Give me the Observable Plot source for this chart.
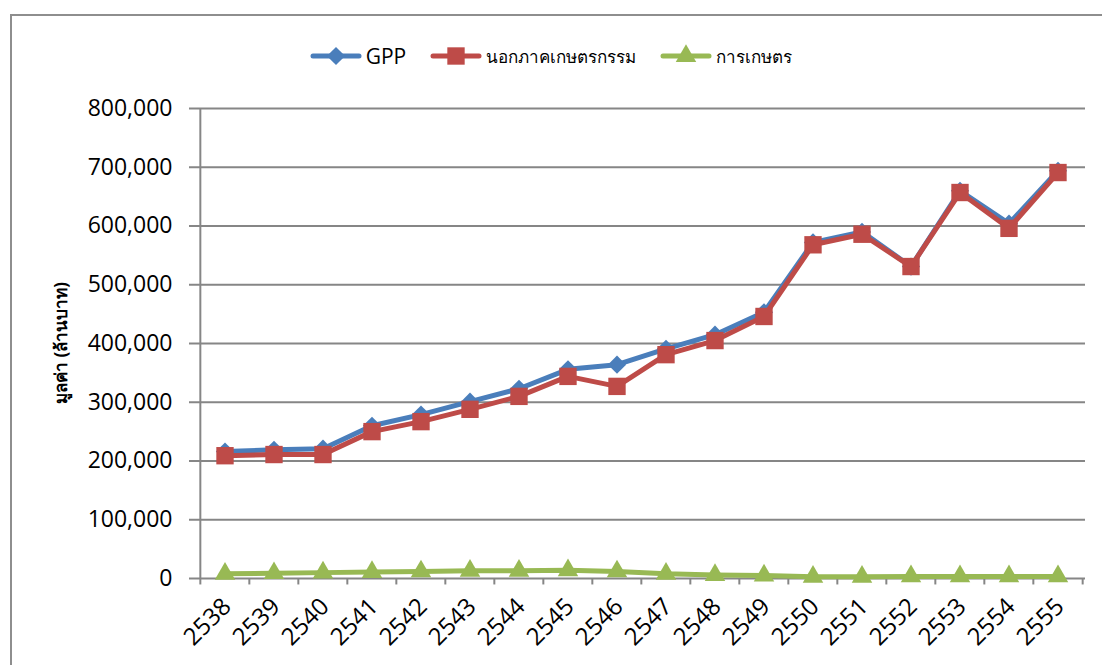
<!DOCTYPE html>
<html>
<head>
<meta charset="utf-8">
<script src="https://cdn.jsdelivr.net/npm/d3@7"></script>
<script src="https://cdn.jsdelivr.net/npm/@observablehq/plot@0.6"></script>
<style>
  html, body { margin: 0; padding: 0; background: #fff; }
  body { width: 1102px; height: 665px; position: relative; overflow: hidden; font-family: "Open Sans", sans-serif; }
  #frame { position: absolute; left: 10px; top: 14px; width: 1200px; height: 800px; border: 2px solid #8e8e8e; box-sizing: border-box; }
  #chart { position: absolute; left: 0; top: 0; }
  #legend { position: absolute; left: 0; top: 42px; width: 1102px; display: flex; justify-content: center; align-items: center; gap: 0; }
  .item { display: flex; align-items: center; margin: 0 12px; }
  .item svg { display: block; }
  .item span { font-size: 21px; color: #000; margin-left: 4px; }
  .item span.th { font-size: 17px; font-weight: 300; }
</style>
</head>
<body>
<div id="frame"></div>
<div id="chart"></div>
<div id="legend"></div>
<script>
const years = ["2538","2539","2540","2541","2542","2543","2544","2545","2546","2547","2548","2549","2550","2551","2552","2553","2554","2555"];
const gpp      = [216000, 219000, 221000, 260000, 279000, 301000, 323000, 356000, 364000, 391000, 415000, 453000, 572000, 590000, 531000, 660000, 604000, 694000];
const nonAgri  = [209000, 211000, 211000, 250000, 267000, 288000, 310000, 344000, 327000, 381000, 405000, 446000, 568000, 586000, 531000, 657000, 596000, 691000];
const agri     = [8000, 9000, 10000, 11000, 12000, 13000, 13000, 14000, 12000, 8000, 6000, 5000, 3000, 3000, 3500, 3500, 3500, 3500];
const seriesNames = ["GPP", "นอกภาคเกษตรกรรม", "การเกษตร"];
const seriesColors = ["#4a7ebb", "#be4b48", "#98b954"];
const seriesSymbols = ["diamond2", "square", "triangle"];
const yTicks = [0, 100000, 200000, 300000, 400000, 500000, 600000, 700000, 800000];
const yLabel = "มูลค่า (ล้านบาท)";

const seriesValues = [gpp, nonAgri, agri];
const data = seriesNames.flatMap((s, k) => years.map((y, i) => ({year: y, series: s, value: seriesValues[k][i]})));

const W = 1102, H = 665, mL = 197, mR = 17, mT = 108, mB = 87;
const bw = (W - mL - mR) / years.length;
const grey = "#868686";
const font = "'Open Sans', sans-serif";
const symbolR = {"diamond2": 8.2, "square": 9.8, "triangle": 7.6};

const marks = [
  Plot.ruleY(yTicks, {stroke: grey, strokeWidth: 2}),
  Plot.ruleX([years[0]], {dx: -bw / 2, y1: 0, y2: 800000, stroke: grey, strokeWidth: 2}),
  Plot.ruleX(years, {dx: -bw / 2, y1: 0, y2: -11000, stroke: grey, strokeWidth: 2}),
  Plot.ruleX([years[years.length - 1]], {dx: bw / 2, y1: 0, y2: -11000, stroke: grey, strokeWidth: 2}),
  Plot.axisY({ticks: yTicks, tickFormat: d3.format(","), tickSize: 8, tickPadding: 17, fontSize: 23, stroke: grey, strokeWidth: 2, label: null, fill: "#000"}),
  Plot.axisX({tickSize: 0, tickRotate: -45, fontSize: 24, tickPadding: 24, dx: 2, label: null, fill: "#000"})
];
seriesNames.forEach((s, k) => {
  const sub = data.filter(d => d.series === s);
  marks.push(Plot.line(sub, {x: "year", y: "value", stroke: seriesColors[k], strokeWidth: 5, strokeLinejoin: "round", strokeLinecap: "round"}));
  marks.push(Plot.dot(sub, {x: "year", y: "value", symbol: () => seriesSymbols[k], r: symbolR[seriesSymbols[k]], fill: seriesColors[k], stroke: "none"}));
});

const chart = Plot.plot({
  width: W, height: H,
  marginLeft: mL, marginRight: mR, marginTop: mT, marginBottom: mB,
  style: {background: "transparent", fontFamily: font, color: "#000"},
  x: {type: "band", domain: years, padding: 0, axis: null},
  y: {domain: [0, 800000], axis: null},
  symbol: {domain: seriesSymbols, range: seriesSymbols},
  marks
});
// y-axis title, placed with the chart's own y scale
const ys = chart.scale("y");
const yMid = (ys.apply(ys.domain[0]) + ys.apply(ys.domain[1])) / 2;
d3.select(chart).append("text")
  .attr("transform", `translate(62,${yMid}) rotate(-90)`)
  .attr("text-anchor", "middle").attr("dominant-baseline", "middle")
  .attr("font-size", 17).attr("font-weight", "bold").attr("fill", "#000")
  .text(yLabel);
document.getElementById("chart").append(chart);

// legend
const leg = d3.select("#legend");
seriesNames.forEach((s, k) => {
  const it = leg.append("div").attr("class", "item");
  const svg = it.append("svg").attr("width", 52).attr("height", 24);
  svg.append("line").attr("x1", 3).attr("x2", 49).attr("y1", 12).attr("y2", 12)
    .attr("stroke", seriesColors[k]).attr("stroke-width", 5).attr("stroke-linecap", "round");
  const sym = {diamond2: d3.symbolDiamond2, square: d3.symbolSquare, triangle: d3.symbolTriangle}[seriesSymbols[k]];
  const r = symbolR[seriesSymbols[k]];
  svg.append("path").attr("transform", "translate(26,12)").attr("d", d3.symbol(sym, Math.PI * r * r)()).attr("fill", seriesColors[k]);
  it.append("span").attr("class", k === 0 ? "" : "th").text(s);
});
</script>
</body>
</html>
